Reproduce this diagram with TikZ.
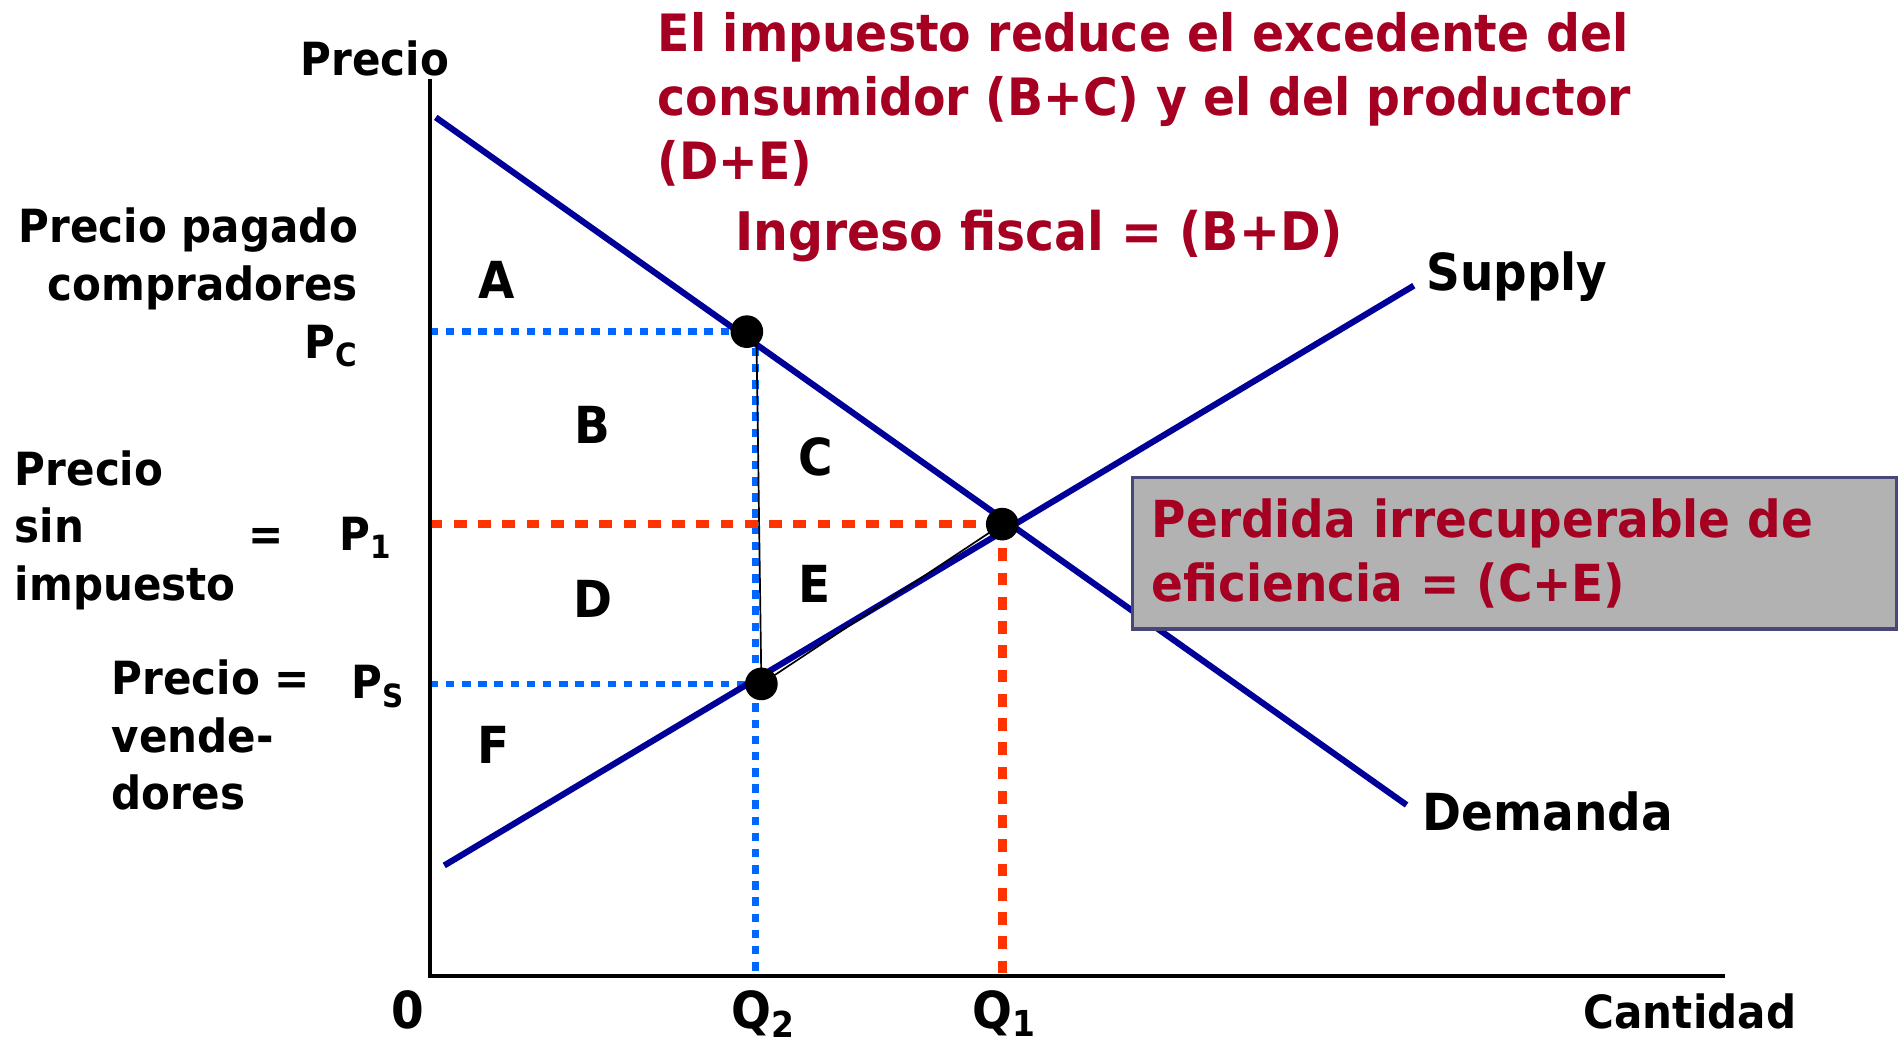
\documentclass[tikz,border=0pt]{standalone}
\usepackage{fontspec}
\setmainfont{DejaVu Sans}[FakeStretch=0.92]
\usepackage{xcolor}
\usepackage{tikz}
\usetikzlibrary{positioning}

\definecolor{curveblue}{RGB}{0,0,153}
\definecolor{notered}{RGB}{165,0,33}
\definecolor{guideblue}{RGB}{0,102,255}
\definecolor{guidered}{RGB}{255,51,0}
\definecolor{boxgray}{RGB}{178,178,178}
\definecolor{boxline}{RGB}{72,72,120}

\begin{document}
\begin{tikzpicture}
[
	x				= 0.02cm,
	y				= -0.02cm,
	Label/.style	= {font = {\fontsize{21.5}{27}\selectfont\bfseries}, inner sep = 0cm, align = left},
	Big/.style		= {font = {\fontsize{24}{30}\selectfont\bfseries}, inner sep = 0cm, align = left},
	Note/.style		= {font = {\fontsize{25}{30}\selectfont\bfseries}, inner sep = 0cm, align = left, text = notered},
	Area/.style		= {Big, anchor = base},
	Curve/.style	= {draw = curveblue, line width = 2.9pt},
	Axis/.style		= {draw = black, line width = 2pt},
	DotBlue/.style	= {draw = guideblue, line width = 3pt, dash pattern = on 4pt off 3.6pt},
	DashRed/.style	= {draw = guidered, line width = 4pt, dash pattern = on 6pt off 5.4pt},
	Thin/.style		= {draw = black, line width = 0.8pt},
	Dot/.style		= {circle, fill = black, inner sep = 0cm, minimum size = 0.54cm},
]

	\useasboundingbox (0,0) rectangle (1568,858);

	% axes and curve end points
	\coordinate (O)    at (355,806);
	\coordinate (Ytop) at (355,65);
	\coordinate (Xend) at (1425,806);
	\coordinate (Dtop) at (360,97);
	\coordinate (Dbot) at (1162,665);
	\coordinate (Sbot) at (367,715);
	\coordinate (Stop) at (1168,236);

	% where the guides meet the axes
	\coordinate (pcy)  at (355,274);
	\coordinate (p1y)  at (355,433);
	\coordinate (psy)  at (355,565);
	\coordinate (q2x)  at (624,806);
	\coordinate (q2t)  at (624,274);
	\coordinate (q1x)  at (828,806);
	\coordinate (tax)  at (625,282);

	\node (pc) [coordinate] at (617,274) {};
	\node (eq) [coordinate] at (828,433) {};
	\node (ps) [coordinate] at (629,565) {};

	% guides
	\draw [DotBlue] (pcy) -- (pc);
	\draw [DotBlue] (psy) -- (ps);
	\draw [DotBlue] (q2t) -- (q2x);
	\draw [DashRed] (p1y) -- (eq);
	\draw [DashRed] (eq) -- (q1x);

	% axes
	\draw [Axis] (Ytop) -- (O) -- (Xend);

	% supply and demand
	\draw [Curve] (Dtop) -- (Dbot);
	\draw [Curve] (Sbot) -- (Stop);
	\draw [Thin] (tax) -- (ps);
	\draw [Thin] (ps) -- (eq);

	\node (dotC) [Dot] at (pc) {};
	\node (dotE) [Dot] at (eq) {};
	\node (dotS) [Dot] at (ps) {};

	% deadweight loss box
	\node (dwl) [Note, font = {\fontsize{24}{30}\selectfont\bfseries}, draw = boxline, fill = boxgray, line width = 1.7pt, anchor = north west,
		minimum width = 12.64cm, minimum height = 2.5cm, inner xsep = 0.32cm, text width = 12cm]
		at (934,393) {Perdida irrecuperable de\\eficiencia = (C+E)};

	% texts at the top
	\node (ejeP) [Label, anchor = base west] at (248,62) {Precio};
	\node (msg1) [Note, font = {\fontsize{24.2}{30}\selectfont\bfseries}, anchor = base west] at (543,148) {El impuesto reduce el excedente del\\consumidor (B+C) y el del productor\\(D+E)};
	\node (msg2) [Note, anchor = base west] at (607,207) {Ingreso fiscal = (B+D)};

	\node (sup) [Big, anchor = base west] at (1178,240) {Supply};
	\node (dem) [Big, anchor = base west] at (1175,686) {Demanda};
	\node (ejeQ) [Big, font = {\fontsize{21.5}{27}\selectfont\bfseries}, anchor = base west] at (1308,850) {Cantidad};

	% left side prices
	\node (lblC) [Label, anchor = base east, align = right] at (296,248) {Precio pagado\\compradores};
	\node (valC) [Label, anchor = base east] at (296,296) {P\textsubscript{C}};
	\node (lbl1) [Label, anchor = base west] at (12,496) {Precio\\sin\\impuesto};
	\node (eq1) [Label, anchor = base] at (220,455) {=};
	\node (val1) [Label, anchor = base west] at (280,455) {P\textsubscript{1}};
	\node (lblS) [Label, anchor = base west] at (92,669) {Precio =\\vende-\\dores};
	\node (valS) [Label, anchor = base west] at (290,577) {P\textsubscript{S}};

	% quantities
	\node (zero) [Big, anchor = base] at (337,850) {0};
	\node (valQ2) [Big, anchor = base west] at (604,850) {Q\textsubscript{2}};
	\node (valQ1) [Big, anchor = base west] at (803,850) {Q\textsubscript{1}};

	% areas
	\node (aA) [Area] at (410,247) {A};
	\node (aB) [Area] at (489,366) {B};
	\node (aC) [Area] at (674,393) {C};
	\node (aD) [Area] at (490,510) {D};
	\node (aE) [Area] at (673,498) {E};
	\node (aF) [Area] at (408,631) {F};

\end{tikzpicture}
\end{document}
